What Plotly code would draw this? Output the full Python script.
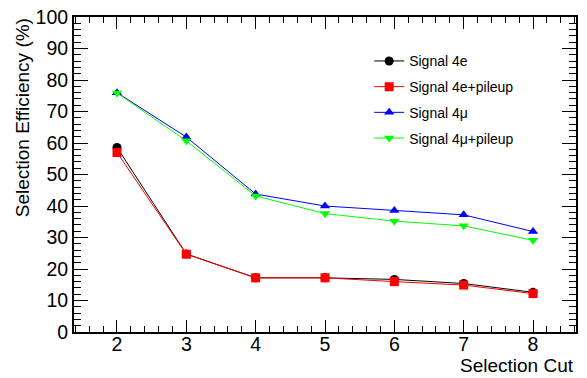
import plotly.graph_objects as go

cuts = [2, 3, 4, 5, 6, 7, 8]
sig_4e = [58.6, 24.8, 17.2, 17.2, 16.7, 15.4, 12.6]
sig_4e_pu = [57.0, 24.7, 17.2, 17.2, 16.0, 14.9, 12.2]
sig_4mu = [76.0, 61.9, 43.8, 40.0, 38.6, 37.2, 31.9]
sig_4mu_pu = [75.9, 60.7, 43.2, 37.6, 35.2, 33.7, 29.1]

names = ["Signal 4e", "Signal 4e+pileup", "Signal 4\u03bc", "Signal 4\u03bc+pileup"]
series = [sig_4e, sig_4e_pu, sig_4mu, sig_4mu_pu]
colors = ["#000000", "#ff0000", "#0000ff", "#00ff00"]
symbols = ["circle", "square", "triangle-up", "triangle-down"]

FONT = "Liberation Sans, Arial, Helvetica, sans-serif"

fig = go.Figure()
for i, (n, s, c, sym) in enumerate(zip(names, series, colors, symbols)):
    fig.add_trace(go.Scatter(
        x=cuts, y=s, name=n, mode="lines+markers",
        line=dict(color=c, width=1),
        marker=dict(color=c, symbol=sym, size=9),
        legendgroup=f"g{i}",
    ))

axis_common = dict(
    showline=True, linecolor="black", linewidth=2, mirror="allticks",
    ticks="inside", tickcolor="black", showgrid=False, zeroline=False,
    tickfont=dict(family=FONT, size=19.5, color="black"),
    ticklabeloverflow="allow",
)

fig.update_xaxes(
    range=[1.38, 8.62], tickmode="linear", tick0=0, dtick=1, ticklen=12,
    ticklabelstandoff=-6,
    minor=dict(ticks="inside", ticklen=6, tickcolor="black", dtick=0.2, tick0=0, showgrid=False),
    **axis_common,
)
fig.update_yaxes(
    range=[0, 100.02], tickmode="linear", tick0=0, dtick=10, ticklen=14,
    minor=dict(ticks="inside", ticklen=7, tickcolor="black", dtick=2, tick0=0, showgrid=False),
    **axis_common,
)

fig.add_annotation(
    text="Selection Efficiency (%)", xref="paper", yref="paper",
    x=-0.102, y=0.681, xanchor="center", yanchor="middle", textangle=-90,
    showarrow=False, font=dict(family=FONT, size=19, color="black"),
)
fig.add_annotation(
    text="Selection Cut", xref="paper", yref="paper",
    x=1.0, y=-0.105, xanchor="right", yanchor="middle",
    showarrow=False, font=dict(family=FONT, size=19, color="black"),
)

fig.update_layout(
    width=587, height=378,
    margin=dict(l=74, r=11, t=6, b=46),
    paper_bgcolor="white", plot_bgcolor="white",
    showlegend=True,
    legend=dict(
        x=0.588, y=0.91, xanchor="left", yanchor="top",
        bgcolor="rgba(0,0,0,0)", borderwidth=0,
        font=dict(family=FONT, size=14, color="black"),
        tracegroupgap=4.5,
    ),
)

fig.write_html("out.html", config={"displayModeBar": False},
               post_script="document.body.style.margin='0px';")
